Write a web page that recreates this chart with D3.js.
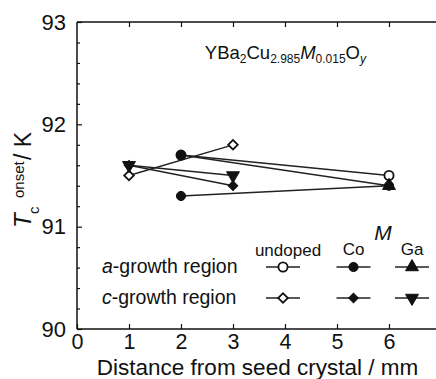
<!DOCTYPE html>
<html>
<head>
<meta charset="utf-8">
<script src="https://cdn.jsdelivr.net/npm/d3@7"></script>
<style>
  html, body { margin: 0; padding: 0; background: #fff; }
  svg { display: block; font-family: "Liberation Sans", Arial, sans-serif; }
</style>
</head>
<body>
<svg id="chart" width="436" height="379"></svg>
<script>
// Onset Tc versus distance from the seed crystal
const xTicks = [0, 1, 2, 3, 4, 5, 6];
const yTicks = [90, 91, 92, 93];
const yMinorStep = 0.2;

// a-growth region
const undopedAX = [2, 6];
const undopedAY = [91.7, 91.5];
const coAX = [2, 6, 2];
const coAY = [91.3, 91.4, 91.7];
const gaAX = [6];
const gaAY = [91.4];

// c-growth region
const undopedCX = [1, 3];
const undopedCY = [91.5, 91.8];
const coCX = [1, 3];
const coCY = [91.6, 91.4];
const gaCX = [1, 3];
const gaCY = [91.6, 91.5];

const legendColumns = ["undoped", "Co", "Ga"];
const legendRows = ["a", "c"];

const svg = d3.select("#chart");
const plotLeft = 77, plotTop = 22, plotW = 364, plotH = 307;

const x = d3.scaleLinear().domain([0, 7]).range([plotLeft, plotLeft + plotW]);
const y = d3.scaleLinear().domain([90, 93]).range([plotTop + plotH, plotTop]);

const ink = "#111";

// frame (bottom, left, top)
svg.append("line").attr("x1", x(0)).attr("x2", x(7)).attr("y1", y(90)).attr("y2", y(90))
  .attr("stroke", ink).attr("stroke-width", 1.5);
svg.append("line").attr("x1", x(0)).attr("x2", x(7)).attr("y1", y(93)).attr("y2", y(93))
  .attr("stroke", ink).attr("stroke-width", 1.5);
svg.append("line").attr("x1", x(0)).attr("x2", x(0)).attr("y1", y(90)).attr("y2", y(93))
  .attr("stroke", ink).attr("stroke-width", 1.5);

// inward ticks on x (bottom and top)
const xAxisB = d3.axisBottom(x).tickValues(xTicks).tickSize(-5).tickPadding(5).tickFormat(d3.format("d"));
const gxB = svg.append("g").attr("transform", `translate(0,${y(90)})`).call(xAxisB);
gxB.select(".domain").remove();
gxB.selectAll("line").attr("stroke", ink).attr("stroke-width", 1.2);
gxB.selectAll("text").attr("font-size", 21.5).attr("fill", ink).attr("font-family", "Liberation Sans, Arial, sans-serif");

const xAxisT = d3.axisTop(x).tickValues(xTicks.filter(d => d > 0)).tickSize(-5).tickFormat("");
const gxT = svg.append("g").attr("transform", `translate(0,${y(93)})`).call(xAxisT);
gxT.select(".domain").remove();
gxT.selectAll("line").attr("stroke", ink).attr("stroke-width", 1.2);

// y axis: major and minor inward ticks
const yMinor = d3.range(90, 93.0001, yMinorStep).filter(v => Math.abs(v - Math.round(v)) > 1e-6);
const gyMinor = svg.append("g").attr("transform", `translate(${x(0)},0)`)
  .call(d3.axisLeft(y).tickValues(yMinor).tickSize(-3).tickFormat(""));
gyMinor.select(".domain").remove();
gyMinor.selectAll("line").attr("stroke", ink).attr("stroke-width", 1.2);

const gy = svg.append("g").attr("transform", `translate(${x(0)},0)`)
  .call(d3.axisLeft(y).tickValues(yTicks).tickSize(-5).tickPadding(11).tickFormat(d3.format("d")));
gy.select(".domain").remove();
gy.selectAll("line").attr("stroke", ink).attr("stroke-width", 1.2);
gy.selectAll("text").attr("font-size", 22).attr("fill", ink).attr("font-family", "Liberation Sans, Arial, sans-serif");

// axis titles
svg.append("text").attr("x", (x(0) + 436) / 2 + 1).attr("y", 375)
  .attr("text-anchor", "middle").attr("font-size", 22.5).attr("fill", ink)
  .text("Distance from seed crystal / mm");

const yl = svg.append("g").attr("transform", "translate(31,228) rotate(-90)");
yl.append("text").attr("x", 0).attr("y", 0).attr("font-size", 24).attr("font-style", "italic").attr("fill", ink).text("T");
yl.append("text").attr("x", 14).attr("y", 8).attr("font-size", 15).attr("fill", ink).text("c");
yl.append("text").attr("x", 30).attr("y", -7).attr("font-size", 15).attr("fill", ink).text("onset");
yl.append("text").attr("x", 68).attr("y", 0).attr("font-size", 23).attr("fill", ink).text("/ K");

// formula label
const f = svg.append("text").attr("x", 366).attr("y", 59).attr("text-anchor", "end")
  .attr("font-size", 18.5).attr("fill", ink);
f.append("tspan").text("YBa");
f.append("tspan").attr("font-size", 12).attr("dy", 4).text("2");
f.append("tspan").attr("dy", -4).text("Cu");
f.append("tspan").attr("font-size", 12).attr("dy", 4).text("2.985");
f.append("tspan").attr("dy", -4).attr("font-style", "italic").text("M");
f.append("tspan").attr("font-size", 12).attr("dy", 4).text("0.015");
f.append("tspan").attr("dy", -4).text("O");
f.append("tspan").attr("font-size", 12).attr("dy", 4).attr("font-style", "italic").text("y");

// marker shapes
const shapes = {
  circle: d3.symbol().type(d3.symbolCircle).size(66),
  diamond: d3.symbol().type(d3.symbolSquare).size(46),
  triUp: d3.symbol().type(d3.symbolTriangle).size(72),
};
function drawMarker(g, kind, filled, cx, cy) {
  let path, rot = 0;
  if (kind === "circle") path = shapes.circle();
  else if (kind === "diamond") { path = shapes.diamond(); rot = 45; }
  else { path = shapes.triUp(); if (kind === "triDown") rot = 180; }
  g.append("path").attr("d", path)
    .attr("transform", `translate(${cx},${cy}) rotate(${rot})`)
    .attr("fill", filled ? ink : "#fff")
    .attr("stroke", ink).attr("stroke-width", filled ? 1 : 1.8);
}

const series = [
  { xs: undopedAX, ys: undopedAY, kind: "circle", filled: false },
  { xs: undopedCX, ys: undopedCY, kind: "diamond", filled: false },
  { xs: coAX, ys: coAY, kind: "circle", filled: true },
  { xs: coCX, ys: coCY, kind: "diamond", filled: true },
  { xs: gaAX, ys: gaAY, kind: "triUp", filled: true },
  { xs: gaCX, ys: gaCY, kind: "triDown", filled: true },
];

const line = d3.line().x(d => x(d[0])).y(d => y(d[1]));
const data = svg.append("g");
series.forEach(s => {
  const pts = s.xs.map((v, i) => [v, s.ys[i]]);
  data.append("path").datum(pts).attr("d", line)
    .attr("fill", "none").attr("stroke", "#222").attr("stroke-width", 1.4);
});
series.forEach(s => {
  s.xs.forEach((v, i) => drawMarker(data, s.kind, s.filled, x(v), y(s.ys[i])));
});

// legend
const lg = svg.append("g");
const colX = [283, 353.5, 412];
const rowY = [267, 298];
legendColumns.forEach((c, i) => {
  lg.append("text").attr("x", colX[i] + (i === 0 ? 5 : 0)).attr("y", i === 0 ? 256 : 255)
    .attr("text-anchor", "middle").attr("font-size", 17).attr("fill", ink).text(c);
});
lg.append("text").attr("x", 383).attr("y", 240).attr("text-anchor", "middle")
  .attr("font-size", 21).attr("font-style", "italic").attr("fill", ink).text("M");

legendRows.forEach((r, j) => {
  const t = lg.append("text").attr("x", 102).attr("y", rowY[j] + 6).attr("font-size", 19.5).attr("fill", ink);
  t.append("tspan").attr("font-style", "italic").text(r);
  t.append("tspan").text("-growth region");
});

const legendKinds = [
  [["circle", false], ["circle", true], ["triUp", true]],
  [["diamond", false], ["diamond", true], ["triDown", true]],
];
legendKinds.forEach((row, j) => {
  row.forEach((k, i) => {
    lg.append("line").attr("x1", colX[i] - 17).attr("x2", colX[i] + 17)
      .attr("y1", rowY[j]).attr("y2", rowY[j]).attr("stroke", "#222").attr("stroke-width", 1.4);
    drawMarker(lg, k[0], k[1], colX[i], rowY[j]);
  });
});
</script>
</body>
</html>
